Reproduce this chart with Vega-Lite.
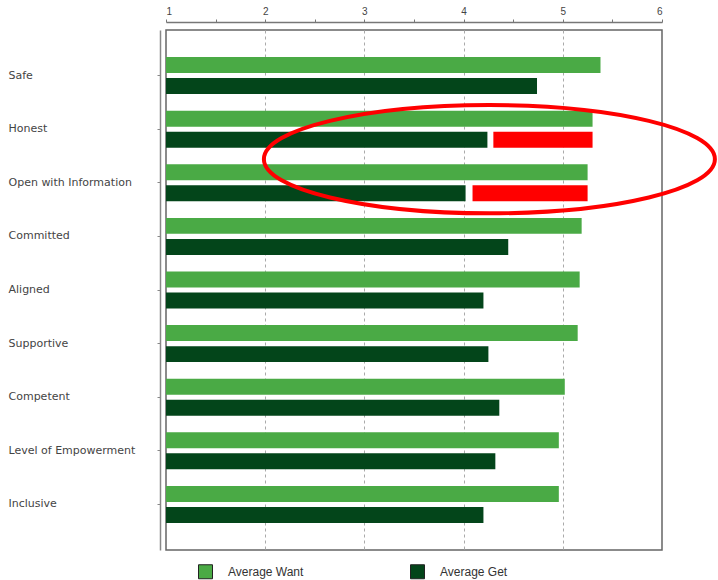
{
  "$schema": "https://vega.github.io/schema/vega-lite/v6.json",
  "width": 496,
  "height": 520,
  "autosize": {"type": "none"},
  "padding": {"left": 166, "top": 30, "right": 56, "bottom": 30},
  "background": "white",
  "config": {
    "font": "DejaVu Sans",
    "view": {"stroke": "#666666", "strokeWidth": 1.5}
  },
  "datasets": {
    "scores": [
      {"attribute": "Safe", "series": "Average Want", "score": 5.38},
      {"attribute": "Safe", "series": "Average Get", "score": 4.74},
      {"attribute": "Honest", "series": "Average Want", "score": 5.3},
      {"attribute": "Honest", "series": "Average Get", "score": 4.24},
      {"attribute": "Open with Information", "series": "Average Want", "score": 5.25},
      {"attribute": "Open with Information", "series": "Average Get", "score": 4.02},
      {"attribute": "Committed", "series": "Average Want", "score": 5.19},
      {"attribute": "Committed", "series": "Average Get", "score": 4.45},
      {"attribute": "Aligned", "series": "Average Want", "score": 5.17},
      {"attribute": "Aligned", "series": "Average Get", "score": 4.2},
      {"attribute": "Supportive", "series": "Average Want", "score": 5.15},
      {"attribute": "Supportive", "series": "Average Get", "score": 4.25},
      {"attribute": "Competent", "series": "Average Want", "score": 5.02},
      {"attribute": "Competent", "series": "Average Get", "score": 4.36},
      {"attribute": "Level of Empowerment", "series": "Average Want", "score": 4.96},
      {"attribute": "Level of Empowerment", "series": "Average Get", "score": 4.32},
      {"attribute": "Inclusive", "series": "Average Want", "score": 4.96},
      {"attribute": "Inclusive", "series": "Average Get", "score": 4.2}
    ],
    "gaps": [
      {"attribute": "Honest", "series": "Average Get", "from": 4.3, "to": 5.3},
      {"attribute": "Open with Information", "series": "Average Get", "from": 4.09, "to": 5.25}
    ],
    "callout": [
      {"attribute": "Honest", "center": 4.26}
    ]
  },
  "encoding": {
    "y": {
      "field": "attribute",
      "type": "nominal",
      "sort": ["Safe", "Honest", "Open with Information", "Committed", "Aligned", "Supportive", "Competent", "Level of Empowerment", "Inclusive"],
      "scale": {"paddingInner": 0.31, "paddingOuter": 0.505},
      "axis": {
        "orient": "left",
        "offset": 6,
        "title": null,
        "domainColor": "#888888",
        "domainWidth": 1.5,
        "tickColor": "#888888",
        "tickSize": 3,
        "labelAlign": "left",
        "labelPadding": 149,
        "labelFont": "DejaVu Sans",
        "labelFontSize": 11,
        "labelColor": "#444444",
        "labelLimit": 200
      }
    }
  },
  "layer": [
    {
      "data": {"name": "scores"},
      "mark": {"type": "bar", "orient": "horizontal"},
      "encoding": {
        "x": {
          "field": "score",
          "type": "quantitative",
          "scale": {"domain": [1, 6], "nice": false, "zero": false},
          "axis": {
            "orient": "top",
            "offset": 8,
            "title": null,
            "values": [1, 1.5, 2, 2.5, 3, 3.5, 4, 4.5, 5, 5.5, 6],
            "labelExpr": "datum.value % 1 === 0 ? format(datum.value, 'd') : ''",
            "grid": true,
            "gridDash": [3, 3],
            "gridColor": "#aaaaaa",
            "gridOpacity": {"condition": {"test": "datum.value % 1 === 0 && datum.value > 1 && datum.value < 6", "value": 1}, "value": 0},
            "domainColor": "#777777",
            "domainWidth": 1.5,
            "tickColor": "#777777",
            "tickSize": 3,
            "labelColor": "#444444",
            "labelFont": "Liberation Sans",
            "labelFontSize": 10,
            "labelPadding": 3
          }
        },
        "x2": {"datum": 1},
        "yOffset": {
          "field": "series",
          "type": "nominal",
          "scale": {"domain": ["Average Want", "Average Get"], "paddingInner": 0.24}
        },
        "color": {
          "field": "series",
          "type": "nominal",
          "scale": {"domain": ["Average Want", "Average Get"], "range": ["#4aaa45", "#03451a"]},
          "legend": {
            "orient": "none",
            "legendX": 32,
            "legendY": 534,
            "direction": "horizontal",
            "title": null,
            "padding": 0,
            "symbolType": "square",
            "symbolSize": 196,
            "symbolStrokeColor": "#222222",
            "symbolStrokeWidth": 1,
            "labelFont": "Liberation Sans",
            "labelFontSize": 12,
            "labelColor": "#333333",
            "labelOffset": 15,
            "columnPadding": 104
          }
        }
      }
    },
    {
      "data": {"name": "gaps"},
      "mark": {"type": "bar", "orient": "horizontal", "color": "#ff0000"},
      "encoding": {
        "x": {"field": "from", "type": "quantitative"},
        "x2": {"field": "to"},
        "yOffset": {"field": "series", "type": "nominal"}
      }
    },
    {
      "data": {"name": "callout"},
      "mark": {
        "type": "point",
        "shape": "M-1,0A1,0.24,0,1,0,1,0A1,0.24,0,1,0,-1,0Z",
        "size": 203401,
        "filled": false,
        "stroke": "#ff0000",
        "strokeWidth": 4,
        "opacity": 1,
        "yOffset": 30
      },
      "encoding": {
        "x": {"field": "center", "type": "quantitative"}
      }
    }
  ]
}
